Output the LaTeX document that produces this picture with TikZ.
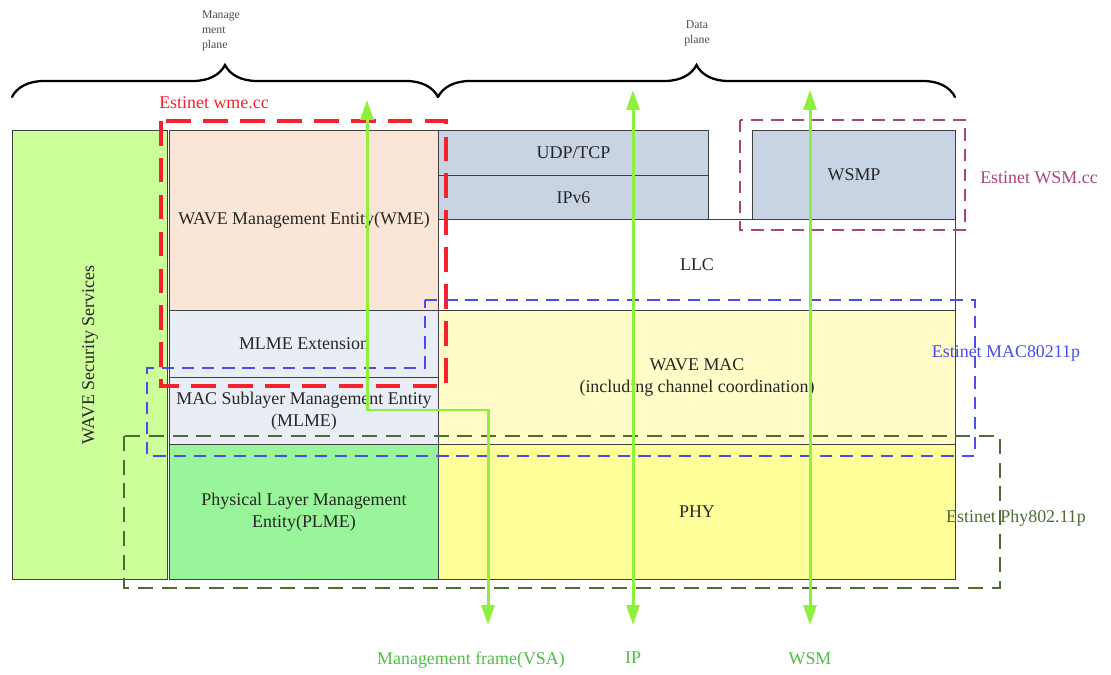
\documentclass[tikz,border=0pt]{standalone}
\usepackage{fontspec}
\setmainfont{Liberation Serif}
\usetikzlibrary{arrows.meta,positioning,decorations.pathreplacing}

\definecolor{boxline}{HTML}{404040}
\definecolor{secfill}{HTML}{CCFF99}
\definecolor{wmefill}{HTML}{FBE5D6}
\definecolor{mlmefill}{HTML}{E9EDF5}
\definecolor{plmefill}{HTML}{99F599}
\definecolor{netfill}{HTML}{C8D4E4}
\definecolor{macfill}{HTML}{FFFCC8}
\definecolor{phyfill}{HTML}{FFFF99}
\definecolor{flowgreen}{HTML}{8CF03C}
\definecolor{lblgreen}{HTML}{4EBE46}
\definecolor{wmered}{HTML}{F5222E}
\definecolor{wsmpurple}{HTML}{A8457E}
\definecolor{macblue}{HTML}{4B4BF0}
\definecolor{phygreen}{HTML}{4F6A35}

\begin{document}
\begin{tikzpicture}[x=0.02cm,y=-0.02cm,font=\fontsize{10.2}{12.5}\selectfont,
  layer/.style={draw=boxline,line width=0.6pt,anchor=north west,inner sep=0pt,align=center,text=black!85},
  flow/.style={draw=flowgreen,line width=1.7pt,{Triangle[length=0.4cm,width=0.26cm]}-{Triangle[length=0.4cm,width=0.26cm]}},
  brc/.style={decorate,decoration={brace,amplitude=0.64cm,aspect=0.5},line width=1.3pt,line cap=round},
  plane/.style={font=\fontsize{6.7}{8.6}\selectfont,text=black!70}]
  \useasboundingbox (0,0) rectangle (1111,675);

  % planes
  \draw[brc] (12,97) -- (438,97);
  \draw[brc] (438,97) -- (955,97);
  \node[plane,align=left] (mplane) at (221,31) {Manage\\ment\\plane};
  \node[plane,align=center] (dplane) at (697,33) {Data\\plane};

  % protocol stack
  \node[layer,fill=secfill,minimum width=3.1cm,minimum height=8.98cm] (sec) at (12,130) {};
  \node[rotate=90,text=black!85] (sectxt) at (sec.center) {WAVE Security Services};
  \node[layer,fill=wmefill,minimum width=5.38cm,minimum height=3.6cm] (wme) at (169,130) {WAVE Management Entity(WME)};
  \node[layer,fill=mlmefill,minimum width=5.38cm,minimum height=1.34cm] (mlmeext) at (169,310) {MLME Extension};
  \node[layer,fill=mlmefill,minimum width=5.38cm,minimum height=1.34cm] (mlme) at (169,377) {MAC Sublayer Management Entity\\(MLME)};
  \node[layer,fill=plmefill,minimum width=5.38cm,minimum height=2.7cm] (plme) at (169,444) {Physical Layer Management\\Entity(PLME)};
  \node[layer,fill=netfill,minimum width=5.4cm,minimum height=0.9cm] (udp) at (438,130) {UDP/TCP};
  \node[layer,fill=netfill,minimum width=5.4cm,minimum height=0.88cm] (ipv6) at (438,175) {IPv6};
  \node[layer,fill=netfill,minimum width=4.06cm,minimum height=1.78cm] (wsmp) at (752,130) {WSMP};
  \node[layer,fill=white,minimum width=10.34cm,minimum height=1.82cm] (llc) at (438,219) {LLC};
  \node[layer,fill=macfill,minimum width=10.34cm,minimum height=2.68cm] (mac) at (438,310) {WAVE MAC\\(including channel coordination)};
  \node[layer,fill=phyfill,minimum width=10.34cm,minimum height=2.7cm] (phy) at (438,444) {PHY};

  % estinet modules
  \node[text=wmered] (wmelbl) at (214,103) {Estinet wme.cc};
  \node[text=wsmpurple] (wsmlbl) at (1039,178) {Estinet WSM.cc};
  \node[text=macblue] (maclbl) at (1006,353) {Estinet MAC80211p};
  \node[text=phygreen] (phylbl) at (1016,518) {Estinet Phy802.11p};
  \draw[wmered,line width=2pt,dash pattern=on 14pt off 7pt] (161,121) rectangle (446,386);
  \draw[wsmpurple,line width=1.1pt,dash pattern=on 7pt off 4.5pt] (740,120) rectangle (965,230);
  \draw[macblue,line width=0.9pt,dash pattern=on 7pt off 4.5pt]
    (425,300) -- (975,300) -- (975,456) -- (147,456) -- (147,368) -- (425,368) -- cycle;
  \draw[phygreen,line width=1.1pt,dash pattern=on 8.5pt off 5pt] (124,436) rectangle (1000,588);

  % frames
  \coordinate (mtop) at (367,100);
  \coordinate (mbot) at (488,625);
  \coordinate (iptop) at (633,90);
  \coordinate (ipbot) at (633,625);
  \coordinate (wsmtop) at (810,90);
  \coordinate (wsmbot) at (810,625);
  \draw[flow] (mtop) -- (367,410) -| (mbot);
  \draw[flow] (iptop) -- (ipbot);
  \draw[flow] (wsmtop) -- (wsmbot);
  \node[text=lblgreen,below=0.42cm of mbot,xshift=-0.34cm] (mlbl) {Management frame(VSA)};
  \node[text=lblgreen,below=0.42cm of ipbot] (iplbl) {IP};
  \node[text=lblgreen,below=0.42cm of wsmbot] (wsmlbl2) {WSM};
\end{tikzpicture}
\end{document}
